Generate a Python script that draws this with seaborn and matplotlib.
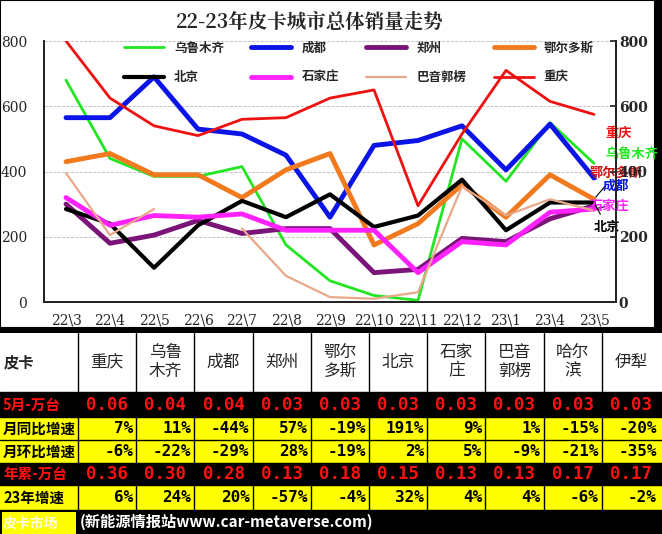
import matplotlib
matplotlib.use("Agg")
import matplotlib.pyplot as plt
import numpy as np
import pandas as pd
import seaborn as sns

months = ["22\\3", "22\\4", "22\\5", "22\\6", "22\\7", "22\\8", "22\\9", "22\\10",
          "22\\11", "22\\12", "23\\1", "23\\4", "23\\5"]
nan = np.nan
chongqing = [800, 625, 540, 510, 560, 565, 625, 650, 295, 515, 710, 615, 575]
urumqi = [680, 440, 385, 385, 415, 175, 65, 20, 5, 500, 370, 550, 425]
chengdu = [565, 565, 690, 530, 515, 450, 260, 480, 495, 540, 405, 545, 380]
zhengzhou = [300, 180, 205, 250, 210, 225, 225, 90, 100, 195, 185, 255, 295]
ordos = [430, 455, 390, 390, 320, 405, 455, 175, 240, 360, 260, 390, 315]
beijing = [285, 240, 105, 235, 310, 260, 330, 230, 265, 375, 220, 305, 305]
shijiazhuang = [320, 235, 265, 260, 270, 220, 220, 220, 90, 185, 175, 275, 285]
bayingol = [395, 205, 285, nan, 225, 80, 15, 10, 30, 355, 265, 315, 280]

table_cols = ["重庆", "乌鲁\n木齐", "成都", "郑州", "鄂尔\n多斯", "北京", "石家\n庄", "巴音\n郭楞", "哈尔\n滨", "伊犁"]
row_labels = ["5月-万台", "月同比增速", "月环比增速", "年累-万台", "23年增速"]
may_sales = ["0.06", "0.04", "0.04", "0.03", "0.03", "0.03", "0.03", "0.03", "0.03", "0.03"]
yoy = ["7%", "11%", "-44%", "57%", "-19%", "191%", "9%", "1%", "-15%", "-20%"]
mom = ["-6%", "-22%", "-29%", "28%", "-19%", "2%", "5%", "-9%", "-21%", "-35%"]
ytd_sales = ["0.36", "0.30", "0.28", "0.13", "0.18", "0.15", "0.13", "0.13", "0.17", "0.17"]
growth23 = ["6%", "24%", "20%", "-57%", "-4%", "32%", "4%", "4%", "-6%", "-2%"]

# name, values, colour, linewidth
series = [
    ("乌鲁木齐", urumqi, "#22e622", 2.0),
    ("成都", chengdu, "#0a14e6", 3.5),
    ("郑州", zhengzhou, "#7a1478", 3.5),
    ("鄂尔多斯", ordos, "#f27a1e", 3.5),
    ("北京", beijing, "#000000", 3.0),
    ("石家庄", shijiazhuang, "#ff22ff", 3.5),
    ("巴音郭楞", bayingol, "#e8a88a", 1.6),
    ("重庆", chongqing, "#ee1111", 2.0),
]

sns.set_theme(style="white", rc={"font.family": "Noto Sans CJK SC"})
W, H = 662, 534
fig = plt.figure(figsize=(W / 100, H / 100), dpi=100, facecolor="black")

# white chart panel
bg = fig.add_axes([0, (H - 328) / H, 655 / W, 328 / H])
bg.set_facecolor("white")
bg.set_xticks([]); bg.set_yticks([])
for s in bg.spines.values():
    s.set_color("black"); s.set_linewidth(1.5)

ax = fig.add_axes([44 / W, (H - 302) / H, 572 / W, 261 / H])
ax.set_facecolor("white")
rows = []
for name, vals, col, lw in series:
    for m, v in zip(months, vals):
        rows.append({"month": m, "city": name, "val": v})
df = pd.DataFrame(rows)
x = np.arange(len(months))
handles = {}
for name, vals, col, lw in series:
    sub = df[df.city == name]
    handles[name], = ax.plot(x, sub["val"].to_numpy(), color=col, lw=lw, label=name)
ax.set_xlim(-0.5, len(months) - 0.5)
ax.set_ylim(0, 800)
ax.set_xticks(x)
ax.set_xticklabels(months, fontfamily="DejaVu Serif", fontsize=10)
ax.set_yticks([0, 200, 400, 600, 800])
ax.tick_params(axis="y", labelsize=10, length=0, pad=12)
ax.set_yticklabels(["0", "200", "400", "600", "800"], fontfamily="DejaVu Serif")
ax.set_xticks(np.arange(-0.5, len(months)), minor=True)
ax.tick_params(axis="x", which="minor", length=5, direction="in", color="black")
ax.tick_params(axis="x", which="major", length=0, pad=8)
ax.grid(axis="y", color="#bbbbbb", ls="--", lw=0.6)
ax.spines["top"].set_visible(False)
for s in ["left", "bottom", "right"]:
    ax.spines[s].set_color("black")
ax2 = ax.twinx()
ax2.set_ylim(0, 800)
ax2.set_yticks([0, 200, 400, 600, 800])
ax2.set_yticklabels(["0", "200", "400", "600", "800"], fontfamily="DejaVu Serif", fontweight="bold")
ax2.tick_params(axis="y", labelsize=10, direction="in", length=4, pad=2)
ax2.spines["top"].set_visible(False)

# legend: matplotlib fills columns first, so interleave to get row order
names = [s[0] for s in series]
order = [names[i] for i in (0, 4, 1, 5, 2, 6, 3, 7)]
ax.legend([handles[n] for n in order], order, ncol=4, loc="upper left",
          bbox_to_anchor=(0.12, 1.04), frameon=False, handlelength=3.2,
          columnspacing=2.2, labelspacing=1.3,
          prop={"family": "Noto Sans CJK SC", "weight": "bold", "size": 9})
fig.text(310 / W, 1 - 22 / H, "22-23年皮卡城市总体销量走势", ha="center", va="center",
         fontsize=14, fontweight="bold", fontfamily="Noto Serif CJK SC")

end_labels = [("重庆", "#ee1111", 575, 520, None), ("乌鲁木齐", "#22e622", 425, 455, None),
              ("鄂尔多斯", "#cc1111", 315, 395, 11.9), ("成都", "#0a14e6", 380, 355, 12.2),
              ("石家庄", "#ff22ff", 285, 295, 11.9), ("北京", "#000000", 305, 230, 12.0)]
for name, col, yv, ty, tx in end_labels:
    ax.annotate(name, xy=(12, yv), xytext=(tx if tx else 12.25, ty), color=col, fontsize=9.5,
                fontweight="bold", va="center", annotation_clip=False,
                arrowprops=None if tx is None else dict(arrowstyle="-", color="black", lw=0.8))

# table
tb = fig.add_axes([0, 0, 1, 1])
tb.set_xlim(0, W); tb.set_ylim(H, 0); tb.axis("off")
col_x = [0, 78] + [78 + 58.2 * (i + 1) for i in range(10)]
row_y = [333, 392, 417, 440, 463, 485, 510]
tb.add_patch(plt.Rectangle((0, row_y[0]), W, row_y[1] - row_y[0], fc="white", ec="none"))
for i in range(1, 6):
    y0, y1 = row_y[i], row_y[i + 1]
    yellow = i in (2, 3, 5)
    tb.add_patch(plt.Rectangle((0, y0), W, y1 - y0, fc="#ffff00" if yellow else "black", ec="none"))
for xx in col_x[1:-1]:
    tb.plot([xx, xx], [row_y[0], row_y[6]], color="black", lw=1)
for yy in row_y[1:]:
    tb.plot([0, W], [yy, yy], color="black", lw=1)
tb.text(4, 362, "皮卡", fontsize=11, va="center", fontweight="bold")
for j, name in enumerate(table_cols):
    cx = (col_x[j + 1] + col_x[j + 2]) / 2
    tb.text(cx, 362, name, fontsize=12, ha="center", va="center", linespacing=1.1)
data_rows = [may_sales, yoy, mom, ytd_sales, growth23]
for i, (lab, vals) in enumerate(zip(row_labels, data_rows)):
    cy = (row_y[i + 1] + row_y[i + 2]) / 2
    dark = i in (0, 3)
    tc = "#ff1111" if dark else "black"
    tb.text(3, cy, lab, fontsize=10.5, va="center", color=tc, fontweight="bold")
    for j, v in enumerate(vals):
        if dark:
            tb.text((col_x[j + 1] + col_x[j + 2]) / 2, cy, v, ha="center",
                    va="center", color=tc, fontsize=12.5, fontweight="bold", fontfamily="DejaVu Sans Mono")
        else:
            tb.text(col_x[j + 2] - 3, cy, v, ha="right", va="center", color=tc,
                    fontsize=11.5, fontweight="bold", fontfamily="DejaVu Sans Mono")
tb.add_patch(plt.Rectangle((2, 512), 74, 22, fc="#ffff00", ec="none"))
tb.text(3, 524, "皮卡市场", fontsize=10, va="center", color="white", fontweight="bold", alpha=0.9)
tb.text(80, 522, "(新能源情报站www.car-metaverse.com)", fontsize=11, va="center",
        color="white", fontweight="bold")

fig.savefig("out.png", dpi=100, facecolor="black")
